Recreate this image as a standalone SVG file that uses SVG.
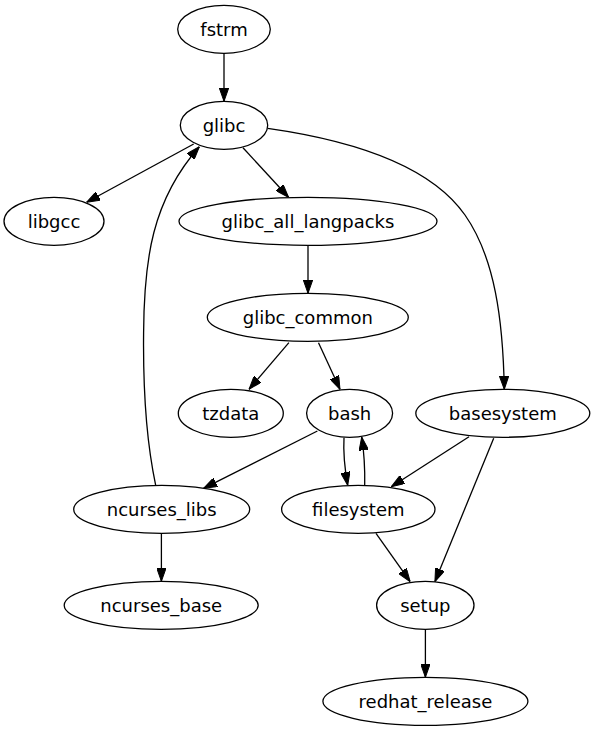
<svg xmlns="http://www.w3.org/2000/svg" width="595" height="731" viewBox="0 0 595 731">
<style>
.n ellipse{fill:#fff;stroke:#000;stroke-width:1.3}
.n text{font-family:"DejaVu Sans",sans-serif;font-size:18px;text-anchor:middle;fill:#000}
#edges path{fill:none;stroke:#000;stroke-width:1.3;marker-end:url(#ah)}
</style>
<defs>
<marker id="ah" viewBox="0 0 13.3 9.4" refX="13.3" refY="4.7" markerWidth="13.3" markerHeight="9.4" markerUnits="userSpaceOnUse" orient="auto">
<path d="M0,0 L13.3,4.7 L0,9.4 z" fill="#000" stroke="#000" stroke-width="1"/>
</marker>
</defs>
<rect width="595" height="731" fill="#fff"/>
<g id="edges">
<path d="M224,53.3 L224,101.3"/>
<path d="M193.7,144 L86.6,202.3"/>
<path d="M243,147.7 L288.6,197.3"/>
<path d="M155.7,485.3 C146,440 143,390 143.6,333 C144,260 152,200 199.4,146.7"/>
<path d="M267.7,128.3 C350,140 430,165 465,215 C495,258 503,320 504.3,389.3"/>
<path d="M308,245.3 L308,293.3"/>
<path d="M288.9,342.7 L249,389.3"/>
<path d="M318.5,342.7 L340,389.3"/>
<path d="M317.4,431 L203.6,488.3"/>
<path d="M344,437.7 C343,455 345,470 347.7,485.3"/>
<path d="M364.7,485.3 C365,470 364,452 361.7,437"/>
<path d="M469,436.7 L391.3,486.7"/>
<path d="M493.7,438.3 L434.9,581.7"/>
<path d="M376,533.3 L410.2,581.7"/>
<path d="M161.4,533.3 L161.4,581.3"/>
<path d="M425.4,629.3 L425.4,677.3"/>
</g>
<g id="fstrm" class="n"><ellipse cx="224" cy="29.3" rx="46.3" ry="24"/><text x="224" y="35.6">fstrm</text></g>
<g id="glibc" class="n"><ellipse cx="224" cy="125.3" rx="43.7" ry="24"/><text x="224" y="131.6">glibc</text></g>
<g id="libgcc" class="n"><ellipse cx="54" cy="221.3" rx="50" ry="24"/><text x="54" y="227.6">libgcc</text></g>
<g id="glibc_all_langpacks" class="n"><ellipse cx="308" cy="221.3" rx="129" ry="24"/><text x="308" y="227.6">glibc_all_langpacks</text></g>
<g id="glibc_common" class="n"><ellipse cx="307.8" cy="317.3" rx="100.5" ry="24"/><text x="307.8" y="323.6">glibc_common</text></g>
<g id="tzdata" class="n"><ellipse cx="230.8" cy="413.3" rx="52.5" ry="24"/><text x="230.8" y="419.6">tzdata</text></g>
<g id="bash" class="n"><ellipse cx="349.6" cy="413.3" rx="43" ry="24"/><text x="349.6" y="419.6">bash</text></g>
<g id="basesystem" class="n"><ellipse cx="502.8" cy="413.3" rx="87" ry="24"/><text x="502.8" y="419.6">basesystem</text></g>
<g id="ncurses_libs" class="n"><ellipse cx="161.7" cy="509.3" rx="88" ry="24"/><text x="161.7" y="515.6">ncurses_libs</text></g>
<g id="filesystem" class="n"><ellipse cx="358.3" cy="509.3" rx="76.7" ry="24"/><text x="358.3" y="515.6">filesystem</text></g>
<g id="ncurses_base" class="n"><ellipse cx="161.2" cy="605.3" rx="97" ry="24"/><text x="161.2" y="611.6">ncurses_base</text></g>
<g id="setup" class="n"><ellipse cx="425.3" cy="605.3" rx="48.7" ry="24"/><text x="425.3" y="611.6">setup</text></g>
<g id="redhat_release" class="n"><ellipse cx="425.4" cy="701.3" rx="102.5" ry="24"/><text x="425.4" y="707.6">redhat_release</text></g>
</svg>
